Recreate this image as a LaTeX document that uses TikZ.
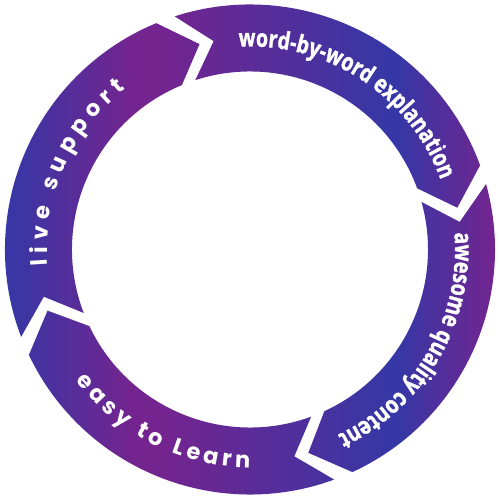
\documentclass[tikz,border=0pt]{standalone}
\usepackage{fontspec}
\usetikzlibrary{decorations.text}

\newfontfamily\headfont{Open Sans}[FakeStretch=0.8,FakeBold=1.2]
\newfontfamily\trackfont{Poppins}

\definecolor{ringblue}{RGB}{52,56,166}
\definecolor{ringpurple}{RGB}{116,36,143}

% blue - purple - blue - purple, left to right over the ring
\pgfdeclarehorizontalshading{ringshade}{100bp}{color(0bp)=(ringblue); color(25bp)=(ringblue);
  color(38bp)=(ringpurple); color(41bp)=(ringpurple); color(64.7bp)=(ringblue);
  color(75bp)=(ringpurple); color(100bp)=(ringpurple)}

\tikzset{
  % one arrow piece of the ring, clockwise from #1 to #2
  ringseg/.style 2 args={insert path={
    (#1:245pt) arc[start angle=#1, end angle=#2, radius=245pt]
    -- ({#2-8.7}:211.5pt) -- (#2:178pt)
    arc[start angle=#2, end angle=#1, radius=178pt]
    -- ({#1-8}:211.5pt) -- cycle}},
  headtext/.style={decorate, decoration={text along path, text color=white,
    text align=center, text={|\headfont\bfseries\fontsize{24.5}{24.5}\selectfont|#1}}},
  tracktext/.style={decorate, decoration={text along path, text color=white,
    text align=fit to path, text={|\trackfont\bfseries\fontsize{22.5}{22.5}\selectfont|#1}}}
}

\begin{document}
\begin{tikzpicture}[x=1pt,y=1pt]
    \useasboundingbox (-250,-249.5) rectangle (249,249.5);
    \fill[white] (-250,-249.5) rectangle (249,249.5);

    % Ring of four arrows
    \begin{scope}
        \clip [ringseg={107.9}{20.1}] [ringseg={15.5}{-65.3}]
              [ringseg={-69.9}{-154.5}] [ringseg={200.9}{112.5}];
        \shade[shading=ringshade] (-246,-246) rectangle (246,246);
    \end{scope}

    % Labels along the arrows
    \path[headtext={word-by-word explanation}]
        (100:203pt) arc[start angle=100, end angle=13.2, radius=203pt];
    \path[headtext={awesome quality content}]
        (10:205pt) arc[start angle=10, end angle=-70, radius=205pt];
    \path[tracktext={live support}]
        (184.5:203pt) arc[start angle=184.5, end angle=127.8, radius=203pt];
    \path[tracktext={easy to Learn}]
        (217:218pt) arc[start angle=217, end angle=270, radius=218pt];
\end{tikzpicture}
\end{document}
